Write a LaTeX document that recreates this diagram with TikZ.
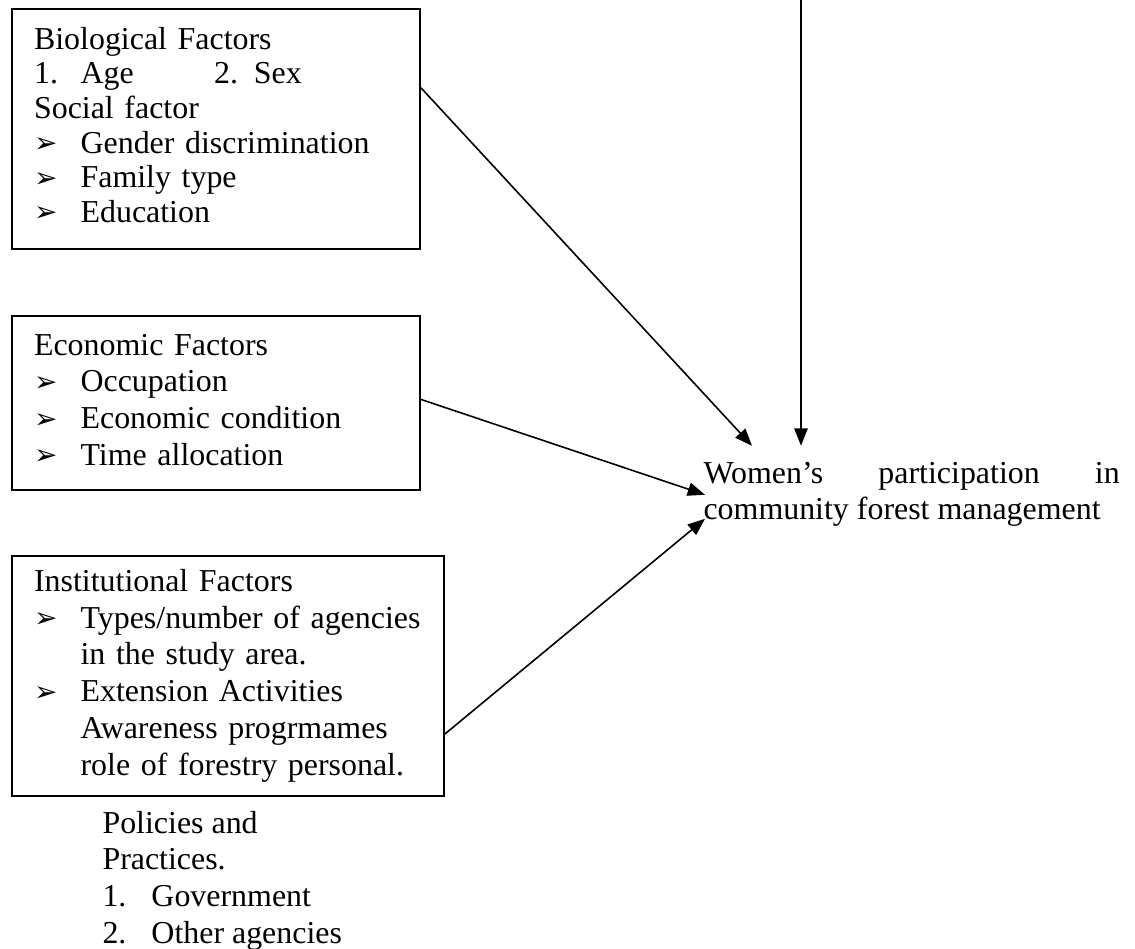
\documentclass[tikz,border=0pt]{standalone}
\usepackage{fontspec}
\setmainfont{Liberation Serif}
\newfontfamily\dingfont{DejaVu Sans}
\usetikzlibrary{arrows.meta, positioning, calc}

\newcommand{\pointer}{\makebox[17.5pt][l]{\raisebox{0.2pt}{\dingfont\fontsize{10.5}{10.5}\selectfont ➢}}}
\newcommand{\hang}{\hspace*{17.5pt}}

\tikzset{
  factorbox/.style={draw, rectangle, line width=0.75pt, anchor=north west, inner xsep=8.3pt, inner ysep=0pt, align=left, font=\fontsize{12}{13.8}\selectfont},
  plaintext/.style={anchor=base west, inner sep=0pt, font=\fontsize{12}{13.8}\selectfont},
  arr/.style={-{Triangle[length=6.5pt,width=5pt]}, line width=0.6pt}
}

\begin{document}
\begin{tikzpicture}[x=0.376pt, y=-0.376pt]
\useasboundingbox (0,0) rectangle (1135,948);

\node[factorbox, text width=136.8pt, minimum height=90.2pt, font=\fontsize{12}{13}\selectfont] (bio) at (11,8) {
    \begin{tabular}{@{}l@{}}
    Biological Factors\\
    \makebox[17.5pt][l]{1.}\makebox[50.2pt][l]{Age}\makebox[15pt][l]{2.}Sex\\
    Social factor\\
    \pointer Gender discrimination\\
    \pointer Family type\\
    \pointer Education
    \end{tabular}
};

\node[factorbox, text width=136.8pt, minimum height=65.4pt] (econ) at (11,315) {
    \begin{tabular}{@{}l@{}}
    Economic Factors\\
    \pointer Occupation\\
    \pointer Economic condition\\
    \pointer Time allocation
    \end{tabular}
};

\node[factorbox, text width=145.8pt, minimum height=90.2pt] (inst) at (11,555) {
    \begin{tabular}{@{}l@{}}
    Institutional Factors\\
    \pointer Types/number of agencies\\
    \hang in the study area.\\
    \pointer Extension Activities\\
    \hang Awareness progrmames\\
    \hang role of forestry personal.
    \end{tabular}
};

\node[plaintext] (women) at (703,483) {
    \begin{tabular}[t]{@{}l@{}}
    \makebox[156.5pt][s]{Women's participation in}\\
    community forest management
    \end{tabular}
};

\node[plaintext] (policies) at (102,833) {
    \begin{tabular}[t]{@{}l@{}}
    Policies and\\
    Practices.\\
    \makebox[18.4pt][l]{1.}Government\\
    \makebox[18.4pt][l]{2.}Other agencies
    \end{tabular}
};

\coordinate (top) at (801,0);

\draw[arr] (top) -- ($(women.north west)+(98,-11)$);
\draw[arr] ($(bio.north east)!0.33!(bio.south east)$) -- ($(women.north west)+(49,-11)$);
\draw[arr] ($(econ.north east)!0.48!(econ.south east)$) -- ($(women.north west)+(2,38)$);
\draw[arr] ($(inst.north east)!0.74!(inst.south east)$) -- ($(women.north west)+(2,62)$);
\end{tikzpicture}
\end{document}
